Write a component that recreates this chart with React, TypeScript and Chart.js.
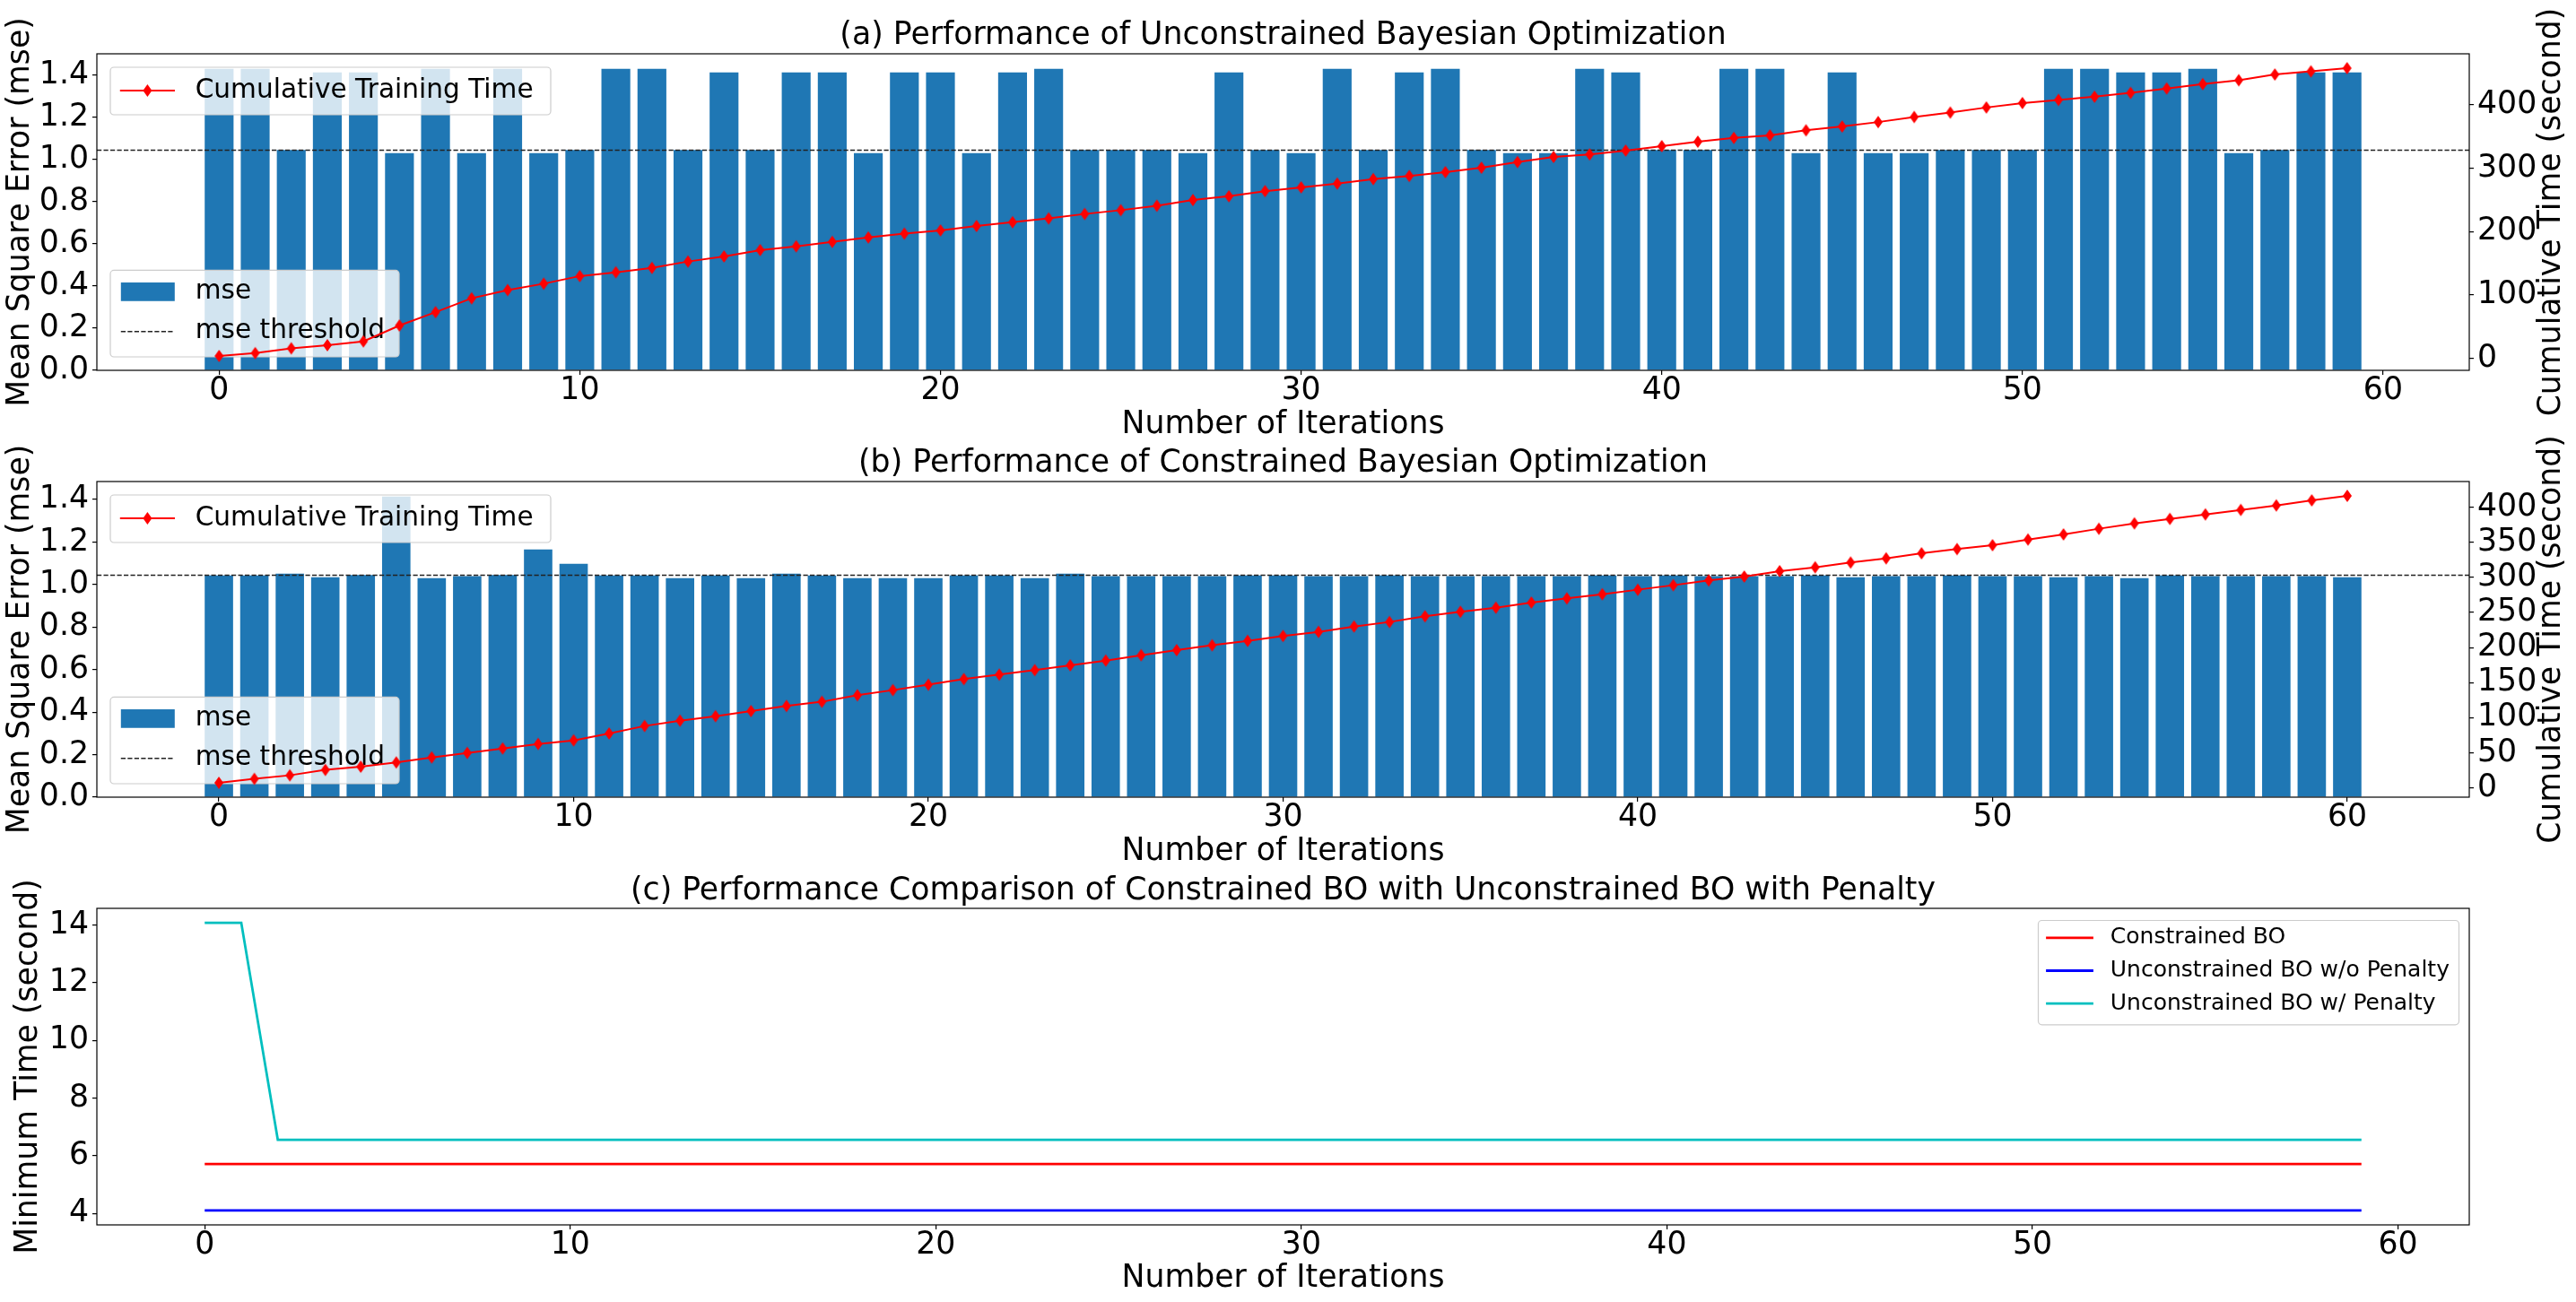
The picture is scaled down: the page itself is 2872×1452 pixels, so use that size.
import React, { useEffect, useRef } from 'react';
import { Chart, registerables } from 'chart.js';

Chart.register(...registerables);

const FONT = 'DejaVu Sans';
const FS = 34.7;
const LEG_FS = 29.6;
const LEG_FS_C = 25;
const BAR_BLUE = '#1f77b4';
const CYAN = '#00bfbf';

const TITLE_A = '(a) Performance of Unconstrained Bayesian Optimization';
const TITLE_B = '(b) Performance of Constrained Bayesian Optimization';
const TITLE_C = '(c) Performance Comparison of Constrained BO with Unconstrained BO with Penalty';
const X_LABEL = 'Number of Iterations';
const Y_LABEL_MSE = 'Mean Square Error (mse)';
const Y_LABEL_CUM = 'Cumulative Time (second)';
const Y_LABEL_MIN = 'Minimum Time (second)';

const MSE_THRESHOLD = 1.044;

// tick values
const iterTicks = [0, 10, 20, 30, 40, 50, 60];
const mseTicks = [0, 0.2, 0.4, 0.6, 0.8, 1.0, 1.2, 1.4];
const cumTicksA = [0, 100, 200, 300, 400];
const cumTicksB = [0, 50, 100, 150, 200, 250, 300, 350, 400];
const minTimeTicks = [4, 6, 8, 10, 12, 14];

// (a) unconstrained BO: mse per iteration
const mseA = [
  1.43, 1.43, 1.045, 1.413, 1.413, 1.03, 1.43, 1.03, 1.43, 1.03,
  1.045, 1.43, 1.43, 1.045, 1.413, 1.045, 1.413, 1.413, 1.03, 1.413,
  1.413, 1.03, 1.413, 1.43, 1.045, 1.045, 1.045, 1.03, 1.413, 1.045,
  1.03, 1.43, 1.045, 1.413, 1.43, 1.045, 1.03, 1.03, 1.43, 1.413,
  1.045, 1.045, 1.43, 1.43, 1.03, 1.413, 1.03, 1.03, 1.045, 1.045,
  1.045, 1.43, 1.43, 1.413, 1.413, 1.43, 1.03, 1.045, 1.413, 1.413,
];
// (a) cumulative training time (second)
const cumTimeA = [
  4.0, 8.5, 16, 21, 27, 52, 73, 95, 108, 118,
  130, 136, 143, 153, 161, 171, 177, 184, 191, 197,
  202, 209, 215, 221, 228, 234, 241, 250, 256, 264,
  270, 276, 283, 288, 294, 301, 310, 318, 322, 328,
  335, 342, 348, 352, 360, 366, 373, 381, 388, 396,
  403, 408, 413, 419, 426, 433, 439, 448, 453, 458,
];
// (b) constrained BO: mse per iteration
const mseB = [
  1.043, 1.043, 1.051, 1.034, 1.045, 1.414, 1.03, 1.04, 1.045, 1.165,
  1.098, 1.043, 1.043, 1.03, 1.043, 1.03, 1.051, 1.043, 1.03, 1.03,
  1.03, 1.043, 1.043, 1.03, 1.051, 1.04, 1.04, 1.04, 1.04, 1.043,
  1.043, 1.04, 1.04, 1.043, 1.04, 1.04, 1.04, 1.04, 1.04, 1.043,
  1.04, 1.043, 1.04, 1.04, 1.04, 1.043, 1.034, 1.04, 1.04, 1.043,
  1.04, 1.04, 1.034, 1.04, 1.03, 1.043, 1.04, 1.04, 1.04, 1.04,
  1.034,
];
// (b) cumulative training time (second)
const cumTimeB = [
  7.2, 12.8, 17.9, 25.6, 30.2, 36.2, 43.4, 49.8, 56.2, 62.6,
  67.7, 77.5, 88.2, 95.8, 102.2, 109.5, 116.7, 122.7, 132, 139.3,
  147, 155, 161.4, 167.8, 174.6, 181.4, 189.1, 196.3, 203.2, 209.5,
  216.5, 222.3, 230, 236.4, 244.5, 250.9, 256.8, 264.1, 270, 276,
  282.4, 288.8, 295.6, 301.1, 308.8, 314.3, 321.1, 327.1, 334.3, 340.3,
  345.8, 353.9, 361.2, 369.3, 376.9, 383.3, 389.7, 396.1, 402.5, 409.7,
  416.1,
];
// (c) minimum time (second)
const minTimeConstrained = [
  5.71, 5.71, 5.71, 5.71, 5.71, 5.71, 5.71, 5.71, 5.71, 5.71,
  5.71, 5.71, 5.71, 5.71, 5.71, 5.71, 5.71, 5.71, 5.71, 5.71,
  5.71, 5.71, 5.71, 5.71, 5.71, 5.71, 5.71, 5.71, 5.71, 5.71,
  5.71, 5.71, 5.71, 5.71, 5.71, 5.71, 5.71, 5.71, 5.71, 5.71,
  5.71, 5.71, 5.71, 5.71, 5.71, 5.71, 5.71, 5.71, 5.71, 5.71,
  5.71, 5.71, 5.71, 5.71, 5.71, 5.71, 5.71, 5.71, 5.71, 5.71,
];
const minTimeNoPenalty = [
  4.1, 4.1, 4.1, 4.1, 4.1, 4.1, 4.1, 4.1, 4.1, 4.1,
  4.1, 4.1, 4.1, 4.1, 4.1, 4.1, 4.1, 4.1, 4.1, 4.1,
  4.1, 4.1, 4.1, 4.1, 4.1, 4.1, 4.1, 4.1, 4.1, 4.1,
  4.1, 4.1, 4.1, 4.1, 4.1, 4.1, 4.1, 4.1, 4.1, 4.1,
  4.1, 4.1, 4.1, 4.1, 4.1, 4.1, 4.1, 4.1, 4.1, 4.1,
  4.1, 4.1, 4.1, 4.1, 4.1, 4.1, 4.1, 4.1, 4.1, 4.1,
];
const minTimeWithPenalty = [
  14.08, 14.08, 6.55, 6.55, 6.55, 6.55, 6.55, 6.55, 6.55, 6.55,
  6.55, 6.55, 6.55, 6.55, 6.55, 6.55, 6.55, 6.55, 6.55, 6.55,
  6.55, 6.55, 6.55, 6.55, 6.55, 6.55, 6.55, 6.55, 6.55, 6.55,
  6.55, 6.55, 6.55, 6.55, 6.55, 6.55, 6.55, 6.55, 6.55, 6.55,
  6.55, 6.55, 6.55, 6.55, 6.55, 6.55, 6.55, 6.55, 6.55, 6.55,
  6.55, 6.55, 6.55, 6.55, 6.55, 6.55, 6.55, 6.55, 6.55, 6.55,
];

// matplotlib-like autoscale limits
const barLimits = (n: number): [number, number] => {
  const lo = -0.4, hi = n - 1 + 0.4, d = hi - lo;
  return [lo - 0.05 * d, hi + 0.05 * d];
};
const padLimits = (vals: number[]): [number, number] => {
  const lo = Math.min(...vals), hi = Math.max(...vals), d = hi - lo;
  return [lo - 0.05 * d, hi + 0.05 * d];
};
const toXY = (vals: number[]) => vals.map((y, i) => ({ x: i, y }));

function makeDiamond(w: number, h: number, color: string) {
  const c = document.createElement('canvas');
  c.width = Math.ceil(w) + 2;
  c.height = Math.ceil(h) + 2;
  const g = c.getContext('2d')!;
  const cx = c.width / 2, cy = c.height / 2;
  g.beginPath();
  g.moveTo(cx, cy - h / 2);
  g.lineTo(cx + w / 2, cy);
  g.lineTo(cx, cy + h / 2);
  g.lineTo(cx - w / 2, cy);
  g.closePath();
  g.fillStyle = color;
  g.fill();
  return c;
}

type LegendItem = { kind: 'patch' | 'line'; label: string; color: string; dy: number; dash?: number[]; lw?: number; marker?: boolean };
type LegendBox = {
  after: number | 'all'; corner: 'ul' | 'll' | 'ur'; dx: number; dy: number; w: number; h: number;
  fontSize: number; x0: number; x1: number; textX: number; items: LegendItem[];
};

function drawLegendBox(ctx: CanvasRenderingContext2D, area: any, b: LegendBox) {
  const x = b.corner === 'ur' ? area.right - b.dx - b.w : area.left + b.dx;
  const y = b.corner === 'll' ? area.bottom - b.dy - b.h : area.top + b.dy;
  ctx.save();
  const r = 4;
  ctx.beginPath();
  ctx.moveTo(x + r, y);
  ctx.lineTo(x + b.w - r, y);
  ctx.arcTo(x + b.w, y, x + b.w, y + r, r);
  ctx.lineTo(x + b.w, y + b.h - r);
  ctx.arcTo(x + b.w, y + b.h, x + b.w - r, y + b.h, r);
  ctx.lineTo(x + r, y + b.h);
  ctx.arcTo(x, y + b.h, x, y + b.h - r, r);
  ctx.lineTo(x, y + r);
  ctx.arcTo(x, y, x + r, y, r);
  ctx.closePath();
  ctx.fillStyle = 'rgba(255,255,255,0.8)';
  ctx.fill();
  ctx.strokeStyle = '#cccccc';
  ctx.lineWidth = 1.2;
  ctx.stroke();
  for (const it of b.items) {
    const cy = y + it.dy;
    if (it.kind === 'patch') {
      ctx.fillStyle = it.color;
      const ph = b.fontSize * 0.7;
      ctx.fillRect(x + b.x0, cy - ph / 2, b.x1 - b.x0, ph);
    } else {
      ctx.strokeStyle = it.color;
      ctx.lineWidth = it.lw || 2;
      ctx.setLineDash(it.dash || []);
      ctx.beginPath();
      ctx.moveTo(x + b.x0, cy);
      ctx.lineTo(x + b.x1, cy);
      ctx.stroke();
      ctx.setLineDash([]);
      if (it.marker) {
        const mx = x + (b.x0 + b.x1) / 2;
        ctx.beginPath();
        ctx.moveTo(mx, cy - 7);
        ctx.lineTo(mx + 5, cy);
        ctx.lineTo(mx, cy + 7);
        ctx.lineTo(mx - 5, cy);
        ctx.closePath();
        ctx.fillStyle = it.color;
        ctx.fill();
      }
    }
    ctx.fillStyle = '#000';
    ctx.font = `${b.fontSize}px "${FONT}"`;
    ctx.textAlign = 'left';
    ctx.textBaseline = 'middle';
    ctx.fillText(it.label, x + b.textX, cy);
  }
  ctx.restore();
}

const makeLegendPlugin = (boxes: LegendBox[]) => ({
  id: 'boxLegend',
  afterDatasetDraw(chart: any, args: any) {
    for (const b of boxes) if (b.after === args.index) drawLegendBox(chart.ctx, chart.chartArea, b);
  },
  afterDatasetsDraw(chart: any) {
    for (const b of boxes) if (b.after === 'all') drawLegendBox(chart.ctx, chart.chartArea, b);
  },
});

const framePlugin = {
  id: 'frame',
  afterDatasetsDraw(chart: any) {
    const { ctx, chartArea: a } = chart;
    ctx.save();
    ctx.strokeStyle = '#000';
    ctx.lineWidth = 1.2;
    ctx.strokeRect(a.left, a.top, a.right - a.left, a.bottom - a.top);
    ctx.restore();
  },
};

const makeSideTitlePlugin = (text: string, x: number) => ({
  id: 'sideTitle',
  afterDraw(chart: any) {
    const { ctx, chartArea: a } = chart;
    ctx.save();
    ctx.translate(x, (a.top + a.bottom) / 2);
    ctx.rotate(-Math.PI / 2);
    ctx.font = `${FS}px "${FONT}"`;
    ctx.fillStyle = '#000';
    ctx.textAlign = 'center';
    ctx.textBaseline = 'middle';
    ctx.fillText(text, 0, 0);
    ctx.restore();
  },
});

const tickGrid = () => ({
  display: true, drawOnChartArea: false, drawTicks: true, tickLength: 5,
  tickWidth: 1.2, tickColor: '#000', color: '#000', lineWidth: 1.2, offset: false,
});

const fixedTicks = (vals: number[]) => (s: any) => {
  s.ticks = vals.map((v) => ({ value: v }));
};

function xAxis(min: number, max: number, height: number, titlePadBottom: number) {
  return {
    type: 'linear', position: 'bottom', min, max, offset: false,
    grid: tickGrid(), border: { display: false },
    afterBuildTicks: fixedTicks(iterTicks),
    ticks: {
      autoSkip: false, maxRotation: 0, minRotation: 0,
      color: '#000', padding: 4, font: { family: FONT, size: FS, lineHeight: '27px' },
      callback: (v: any) => String(v),
    },
    title: {
      display: true, text: X_LABEL, color: '#000',
      font: { family: FONT, size: FS, lineHeight: '40px' }, padding: { top: 0, bottom: titlePadBottom },
    },
    afterFit: (s: any) => { s.height = height; },
  };
}

function yAxis(position: 'left' | 'right', min: number, max: number, tickVals: number[], decimals: number, title: string | null, titlePadTop: number, width: number) {
  return {
    type: 'linear', position, min, max,
    grid: tickGrid(), border: { display: false },
    afterBuildTicks: fixedTicks(tickVals),
    ticks: {
      autoSkip: false, color: '#000', padding: 4,
      font: { family: FONT, size: FS },
      callback: (v: any) => Number(v).toFixed(decimals),
    },
    title: title
      ? { display: true, text: title, color: '#000', font: { family: FONT, size: FS, lineHeight: '40px' }, padding: { top: titlePadTop, bottom: 0 } }
      : { display: false },
    afterFit: (s: any) => { s.width = width; },
  };
}

function titleOpt(text: string, padTop: number, lh: number) {
  return {
    display: true, text, color: '#000', fullSize: false,
    font: { family: FONT, size: FS, weight: 'normal', lineHeight: `${lh}px` },
    padding: { top: padTop, bottom: 0 },
  };
}

function cumLegend(): LegendBox {
  return {
    after: 'all', corner: 'ul', dx: 15, dy: 15, w: 491, h: 53, fontSize: LEG_FS,
    x0: 10.8, x1: 72, textX: 94.7,
    items: [{ kind: 'line', label: 'Cumulative Training Time', color: '#ff0000', dy: 26, lw: 2, marker: true }],
  };
}
function mseLegend(): LegendBox {
  return {
    after: 1, corner: 'll', dx: 15, dy: 15, w: 322, h: 96.6, fontSize: LEG_FS,
    x0: 11.8, x1: 71.8, textX: 94.7,
    items: [
      { kind: 'patch', label: 'mse', color: BAR_BLUE, dy: 24 },
      { kind: 'line', label: 'mse threshold', color: '#222', dy: 68.3, lw: 1.5, dash: [5.2, 2.3] },
    ],
  };
}

function barPanelConfig(title: string, mse: number[], cum: number[], titlePad: number, xHeight: number, xTitlePad: number, cumTicks: number[], diamond: HTMLCanvasElement) {
  const [xMin, xMax] = barLimits(mse.length);
  const yMax = Math.max(...mse) * 1.05;
  const [cMin, cMax] = padLimits(cum);
  return {
    type: 'bar',
    data: {
      datasets: [
        {
          type: 'bar', label: 'mse', data: toXY(mse), backgroundColor: BAR_BLUE, borderWidth: 0,
          barPercentage: 0.8, categoryPercentage: 1.0, xAxisID: 'x', yAxisID: 'y', order: 3,
        },
        {
          type: 'line', label: 'mse threshold', data: [{ x: xMin, y: MSE_THRESHOLD }, { x: xMax, y: MSE_THRESHOLD }],
          borderColor: '#222', borderWidth: 1.5, borderDash: [5.2, 2.3], pointRadius: 0,
          xAxisID: 'x', yAxisID: 'y', order: 2,
        },
        {
          type: 'line', label: 'Cumulative Training Time', data: toXY(cum), borderColor: '#ff0000', borderWidth: 2,
          pointStyle: diamond, pointRadius: 5, backgroundColor: '#ff0000',
          xAxisID: 'x', yAxisID: 'y1', order: 1,
        },
      ],
    },
    options: {
      animation: false, responsive: false, devicePixelRatio: 1, events: [],
      layout: { padding: 0 },
      plugins: {
        legend: { display: false }, tooltip: { enabled: false },
        title: titleOpt(title, titlePad, 40),
      },
      scales: {
        x: xAxis(xMin, xMax, xHeight, xTitlePad),
        y: yAxis('left', 0, yMax, mseTicks, 1, Y_LABEL_MSE, 3, 108),
        y1: yAxis('right', cMin, cMax, cumTicks, 0, null, 0, 119),
      },
    },
    plugins: [framePlugin, makeLegendPlugin([mseLegend(), cumLegend()]), makeSideTitlePlugin(Y_LABEL_CUM, 2845)],
  };
}

function linePanelConfig() {
  const idx = minTimeConstrained.map((_, i) => i);
  const [xMin, xMax] = padLimits(idx);
  const [yMin, yMax] = padLimits([...minTimeConstrained, ...minTimeNoPenalty, ...minTimeWithPenalty]);
  const ds = (label: string, vals: number[], color: string, order: number) => ({
    label, data: toXY(vals), borderColor: color, backgroundColor: color, borderWidth: 2.8, pointRadius: 0, order,
  });
  const legend: LegendBox = {
    after: 'all', corner: 'ur', dx: 11.5, dy: 13.5, w: 469, h: 116.3, fontSize: LEG_FS_C,
    x0: 8.6, x1: 61.4, textX: 80.3,
    items: [
      { kind: 'line', label: 'Constrained BO', color: '#ff0000', dy: 19.3, lw: 2.8 },
      { kind: 'line', label: 'Unconstrained BO w/o Penalty', color: '#0000ff', dy: 56, lw: 2.8 },
      { kind: 'line', label: 'Unconstrained BO w/ Penalty', color: CYAN, dy: 92.6, lw: 2.8 },
    ],
  };
  return {
    type: 'line',
    data: {
      datasets: [
        ds('Constrained BO', minTimeConstrained, '#ff0000', 3),
        ds('Unconstrained BO w/o Penalty', minTimeNoPenalty, '#0000ff', 2),
        ds('Unconstrained BO w/ Penalty', minTimeWithPenalty, CYAN, 1),
      ],
    },
    options: {
      animation: false, responsive: false, devicePixelRatio: 1, events: [],
      layout: { padding: { left: 0, right: 119, top: 0, bottom: 0 } },
      plugins: {
        legend: { display: false }, tooltip: { enabled: false },
        title: titleOpt(TITLE_C, 15, 38),
      },
      scales: {
        x: xAxis(xMin, xMax, 86, 6),
        y: yAxis('left', yMin, yMax, minTimeTicks, 0, Y_LABEL_MIN, 12, 108),
      },
    },
    plugins: [framePlugin, makeLegendPlugin([legend])],
  };
}

export default function App() {
  const refA = useRef<HTMLCanvasElement>(null);
  const refB = useRef<HTMLCanvasElement>(null);
  const refC = useRef<HTMLCanvasElement>(null);

  useEffect(() => {
    document.body.style.margin = '0';
    Chart.defaults.font.family = FONT;
    Chart.defaults.color = '#000';
    const diamond = makeDiamond(10, 14, '#ff0000');
    const charts = [
      new Chart(refA.current!, barPanelConfig(TITLE_A, mseA, cumTimeA, 20, 87, 6, cumTicksA, diamond) as any),
      new Chart(refB.current!, barPanelConfig(TITLE_B, mseB, cumTimeB, 17, 91, 10, cumTicksB, diamond) as any),
      new Chart(refC.current!, linePanelConfig() as any),
    ];
    return () => charts.forEach((c) => c.destroy());
  }, []);

  const cv = (top: number, h: number) => ({ position: 'absolute' as const, left: 0, top, width: 2872, height: h });
  return (
    <div style={{ position: 'absolute', left: 0, top: 0, width: 2872, height: 1452, background: '#ffffff', overflow: 'hidden' }}>
      <canvas ref={refA} width={2872} height={500} style={cv(0, 500)} />
      <canvas ref={refB} width={2872} height={500} style={cv(480, 500)} />
      <canvas ref={refC} width={2872} height={492} style={cv(960, 492)} />
    </div>
  );
}
